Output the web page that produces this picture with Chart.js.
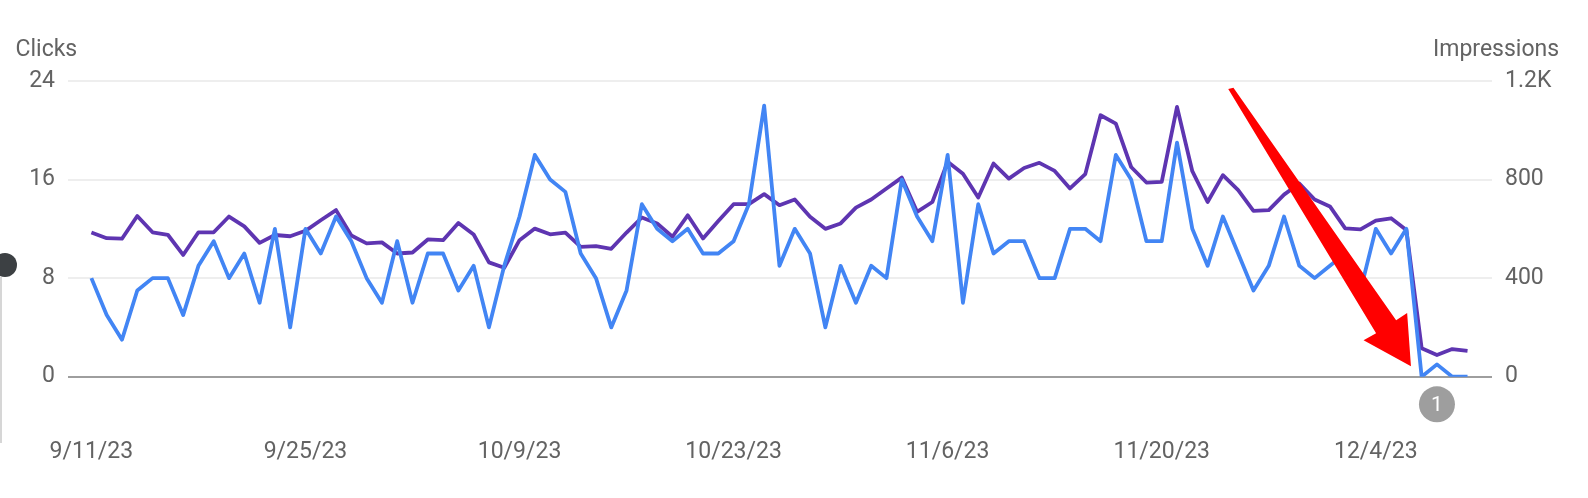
<!DOCTYPE html>
<html>
<head>
<meta charset="utf-8">
<script src="https://cdn.jsdelivr.net/npm/chart.js@4"></script>
<style>
  html, body { margin: 0; padding: 0; background: #fff; }
  #wrap { position: relative; width: 1588px; height: 498px; overflow: hidden; }
  .title { position: absolute; font-family: Roboto, sans-serif; font-size: 23px; line-height: 23px; color: #636363; white-space: nowrap; }
  #dot { position: absolute; left: -7px; top: 253px; width: 24px; height: 24px; border-radius: 50%; background: #3c4043; }
  #edge { position: absolute; left: 0; top: 277px; width: 1.5px; height: 166px; background: #d6d6d6; }
</style>
</head>
<body>
<div id="wrap">
  <canvas id="c" width="1588" height="498"></canvas>
  <div class="title" style="left:15.5px; top:37px;">Clicks</div>
  <div class="title" style="left:1433px; top:37px;">Impressions</div>
  <div id="edge"></div>
  <div id="dot"></div>
</div>
<script>
// ---- data ----
const startDate = [2023, 8, 11]; // 9/11/23, daily
const clicks = [8,5,3,7,8,8,5,9,11,8,10,6,12,4,12,10,13,11,8,6,11,6,10,10,7,9,4,9,13,18,
  16,15,10,8,4,7,14,12,11,12,10,10,11,14,22,9,12,10,4,9,6,9,8,16,13,11,18,6,14,10,
  11,11,8,8,12,12,11,18,16,11,11,19,12,9,13,10,7,9,13,9,8,9,10,7,12,10,12,0,1,0,0];
const impressions = [585,562,560,652,586,576,494,586,586,650,610,543,575,570,592,635,676,573,541,545,
  500,504,557,554,624,577,464,442,554,601,578,585,527,530,519,585,646,622,568,655,
  561,632,700,700,741,696,719,649,600,622,686,719,764,808,669,709,872,824,727,865,
  804,847,868,835,764,822,1061,1027,851,788,791,1095,834,709,818,757,673,676,739,784,
  719,691,602,598,633,643,595,115,88,112,105];
const tickIdx = [0,14,28,42,56,70,84];
const tickLabels = ['9/11/23','9/25/23','10/9/23','10/23/23','11/6/23','11/20/23','12/4/23'];
const leftTicks = [0,8,16,24];
const rightTicks = [0,400,800,1200];
const rightTickLabels = ['0','400','800','1.2K'];
const annotationIndex = 88;
const annotationText = '1';

const categories = clicks.map((_, i) => {
  const d = new Date(startDate[0], startDate[1], startDate[2] + i);
  return (d.getMonth()+1) + '/' + d.getDate() + '/' + String(d.getFullYear()).slice(2);
});

Chart.defaults.font.family = 'Roboto, sans-serif';
Chart.defaults.font.size = 23;
Chart.defaults.color = '#636363';

const arrowPlugin = {
  id: 'arrowAnno',
  afterDatasetsDraw(chart) {
    const ctx = chart.ctx, xs = chart.scales.x, ys = chart.scales.y;
    const P = (i, v) => [xs.getPixelForValue(i), ys.getPixelForValue(v)];
    const pts = [P(74.35,23.35), P(84.02,3.52), P(83.20,2.96), P(86.30,0.85), P(86.05,5.18), P(85.33,4.58), P(74.69,23.45)];
    ctx.save();
    ctx.beginPath();
    pts.forEach((p, k) => k ? ctx.lineTo(p[0], p[1]) : ctx.moveTo(p[0], p[1]));
    ctx.closePath();
    ctx.fillStyle = '#ff0000';
    ctx.fill();
    // numbered annotation bubble
    const cx = xs.getPixelForValue(annotationIndex), cy = ys.getPixelForValue(-2.24);
    ctx.beginPath();
    ctx.arc(cx, cy, 18, 0, Math.PI*2);
    ctx.fillStyle = '#9e9e9e';
    ctx.fill();
    ctx.fillStyle = '#fff';
    ctx.font = '21px Roboto, sans-serif';
    ctx.textAlign = 'center';
    ctx.textBaseline = 'middle';
    ctx.fillText(annotationText, cx, cy + 1);
    ctx.restore();
  }
};

new Chart(document.getElementById('c'), {
  type: 'line',
  data: {
    datasets: [
      { label: 'Clicks', data: clicks.map((v, i) => ({x: i, y: v})), yAxisID: 'y',
        borderColor: '#4285f4', borderWidth: 3.8, pointRadius: 0, tension: 0, borderJoinStyle: 'round' },
      { label: 'Impressions', data: impressions.map((v, i) => ({x: i, y: v})), yAxisID: 'y2',
        borderColor: '#5e35b1', borderWidth: 3.8, pointRadius: 0, tension: 0, borderJoinStyle: 'round' }
    ]
  },
  options: {
    responsive: false,
    animation: false,
    events: [],
    layout: { padding: { top: 81, left: 0, right: 0, bottom: 0 } },
    plugins: { legend: { display: false }, tooltip: { enabled: false } },
    scales: {
      x: {
        type: 'linear', min: -1.53, max: 91.6,
        grid: { display: false, drawTicks: false },
        border: { display: false },
        afterBuildTicks: s => { s.ticks = tickIdx.map(v => ({ value: v })); },
        ticks: { autoSkip: false, maxRotation: 0, padding: 62,
          callback: v => tickLabels[tickIdx.indexOf(v)] || '' },
        afterFit: s => { s.height = 121.3; s.paddingLeft = 0; s.paddingRight = 0; }
      },
      y: {
        position: 'left', min: 0, max: 24,
        afterBuildTicks: s => { s.ticks = leftTicks.map(v => ({ value: v })); },
        grid: { drawTicks: false, lineWidth: 2,
          color: c => c.tick && c.tick.value === 0 ? '#9e9e9e' : '#eeeeee' },
        border: { display: false },
        ticks: { padding: 13 },
        afterFit: s => { s.width = 68; s.paddingTop = 0; s.paddingBottom = 0; }
      },
      y2: {
        position: 'right', min: 0, max: 1200,
        afterBuildTicks: s => { s.ticks = rightTicks.map(v => ({ value: v })); },
        grid: { display: false, drawTicks: false },
        border: { display: false },
        ticks: { padding: 13, callback: v => rightTickLabels[rightTicks.indexOf(v)] },
        afterFit: s => { s.width = 96; s.paddingTop = 0; s.paddingBottom = 0; }
      }
    }
  },
  plugins: [arrowPlugin]
});
</script>
</body>
</html>
